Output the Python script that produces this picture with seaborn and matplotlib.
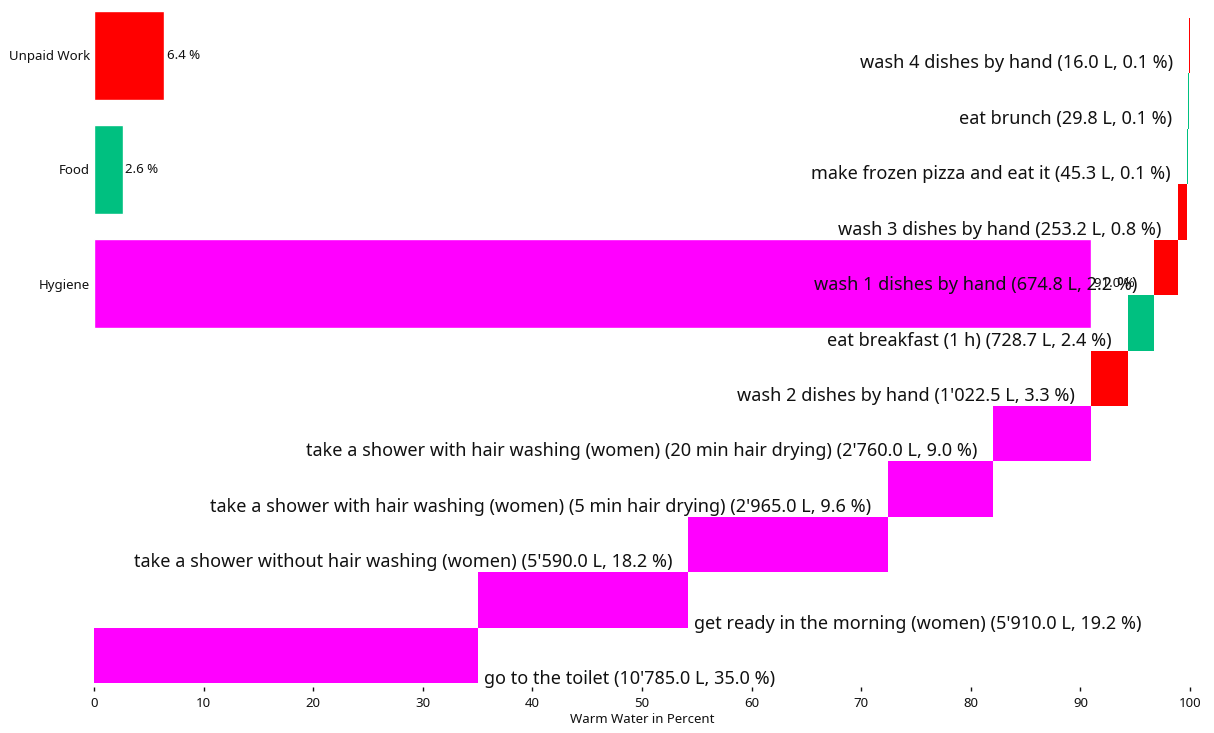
import pandas as pd
import numpy as np
import matplotlib
matplotlib.use("Agg")
import matplotlib.pyplot as plt
import seaborn as sns

sns.set_theme(style="white")
plt.rcParams["font.family"] = ["Noto Sans", "DejaVu Sans"]

# activities, bottom row first (largest consumer)
activities = [
    "go to the toilet",
    "get ready in the morning (women)",
    "take a shower without hair washing (women)",
    "take a shower with hair washing (women) (5 min hair drying)",
    "take a shower with hair washing (women) (20 min hair drying)",
    "wash 2 dishes by hand",
    "eat breakfast (1 h)",
    "wash 1 dishes by hand",
    "wash 3 dishes by hand",
    "make frozen pizza and eat it",
    "eat brunch",
    "wash 4 dishes by hand",
]
liters = [10785.0, 5910.0, 5590.0, 2965.0, 2760.0, 1022.5, 728.7, 674.8, 253.2, 45.3, 29.8, 16.0]
groups = ["Hygiene", "Hygiene", "Hygiene", "Hygiene", "Hygiene", "Unpaid Work",
          "Food", "Unpaid Work", "Unpaid Work", "Food", "Food", "Unpaid Work"]

categories = ["Unpaid Work", "Food", "Hygiene"]
cat_colors = {"Unpaid Work": "#ff0000", "Food": "#00c080", "Hygiene": "#ff00ff"}

df = pd.DataFrame({"activity": activities, "liters": liters, "group": groups})
total = df["liters"].sum()
df["pct"] = df["liters"] / total * 100
df["left"] = df["pct"].cumsum() - df["pct"]
df["row"] = np.arange(len(df))

cat_df = df.groupby("group")["pct"].sum().reindex(categories).reset_index()


def fmt_l(v):
    return f"{v:,.1f}".replace(",", "'")


W, H = 1214, 733
fig = plt.figure(figsize=(W / 100, H / 100), dpi=100)

# category summary bars (top left)
ax_c = fig.add_axes([94 / W, (H - 341) / H, 1096 / W, 343 / H])
sns.barplot(data=cat_df, x="pct", y="group", hue="group", palette=cat_colors,
            order=categories, width=0.78, ax=ax_c, legend=False, saturation=1)
ax_c.set_xlim(0, 100)
ax_c.set_ylim(2.5, -0.5)
ax_c.set_xlabel("")
ax_c.set_ylabel("")
ax_c.set_xticks([])
ax_c.patch.set_alpha(0)
for s in ax_c.spines.values():
    s.set_visible(False)
ax_c.tick_params(axis="y", length=0, pad=3, labelsize=9.5, labelcolor="#111111")
for i, row in cat_df.iterrows():
    ax_c.annotate(f"{row['pct']:.1f} %", (row["pct"], i), xytext=(2, 0),
                  textcoords="offset points", va="center", ha="left",
                  fontsize=9.5, color="#111111")

# waterfall of single activities
ax = fig.add_axes([94 / W, (H - 683) / H, 1096 / W, 665 / H])
ax.patch.set_alpha(0)
ax.barh(df["row"], df["pct"], left=df["left"], height=1.0,
        color=[cat_colors[g] for g in df["group"]], linewidth=0)
ax.set_xlim(0, 100)
ax.set_ylim(-0.5, len(df) - 0.5)
ax.set_yticks([])
for s in ax.spines.values():
    s.set_visible(False)
ax.spines["bottom"].set_position(("outward", 3))
ax.set_xticks(range(0, 101, 10))
ax.tick_params(axis="x", bottom=True, length=3, width=1, color="#111111",
               pad=4, labelsize=9.5, labelcolor="#111111")
ax.set_xlabel("Warm Water in Percent", fontsize=9.5, color="#111111", labelpad=2)

for _, r in df.iterrows():
    txt = f"{r['activity']} ({fmt_l(r['liters'])} L, {r['pct']:.1f} %)"
    if r["left"] < 40:
        ax.annotate(txt, (r["left"] + r["pct"], r["row"] - 0.5), xytext=(6, 4),
                    textcoords="offset pixels", ha="left", va="center",
                    fontsize=13, color="#111111")
    else:
        ax.annotate(txt, (r["left"], r["row"] - 0.5), xytext=(-16, 10),
                    textcoords="offset pixels", ha="right", va="center",
                    fontsize=13, color="#111111")

fig.savefig("out.png", dpi=100)
